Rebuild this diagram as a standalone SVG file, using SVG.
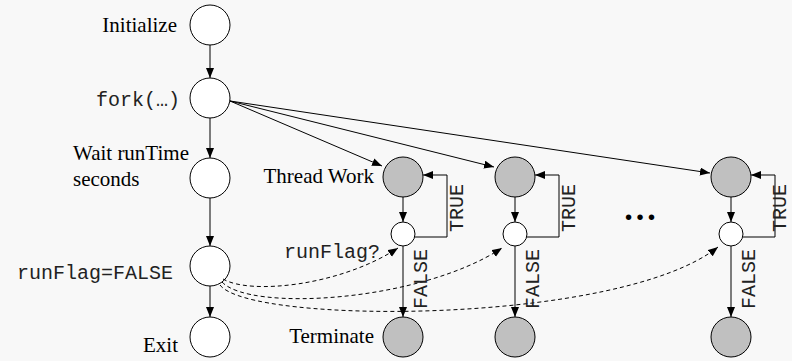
<svg xmlns="http://www.w3.org/2000/svg" width="792" height="361" viewBox="0 0 792 361">
<defs>
<marker id="ah" markerUnits="userSpaceOnUse" markerWidth="11" markerHeight="9" refX="10" refY="4" orient="auto" viewBox="0 0 11 9">
<path d="M0,0 L10,4 L0,8 z" fill="#000"/>
</marker>
<style>
.n{fill:#fff;stroke:#000;stroke-width:1}
.g{fill:#c0c0c0;stroke:#000;stroke-width:1}
.e{fill:none;stroke:#000;stroke-width:1;marker-end:url(#ah)}
.d{fill:none;stroke:#000;stroke-width:1;stroke-dasharray:4,3;marker-end:url(#ah)}
.s{font-family:"Liberation Serif","Times New Roman",serif;font-size:21px;fill:#000}
.m{font-family:"Liberation Mono","Courier New",monospace;font-size:20px;fill:#222}
</style>
</defs>
<rect width="792" height="361" fill="#f8f8f8"/>
<g id="initialize"><circle class="n" cx="210" cy="25" r="20"/><text class="s" x="177" y="32" text-anchor="end">Initialize</text></g>
<g id="fork"><circle class="n" cx="210" cy="98" r="20"/><text class="m" x="180" y="106" text-anchor="end">fork(…)</text></g>
<g id="wait"><circle class="n" cx="210" cy="178" r="20"/><text class="s" x="73" y="160">Wait runTime</text><text class="s" x="73" y="186">seconds</text></g>
<g id="setflag"><circle class="n" cx="210" cy="266" r="20"/><text class="m" x="173" y="279" text-anchor="end">runFlag=FALSE</text></g>
<g id="exit"><circle class="n" cx="210" cy="337" r="20"/><text class="s" x="178" y="352" text-anchor="end">Exit</text></g>

<g id="work1"><circle class="g" cx="403" cy="177" r="20"/><text class="s" x="374" y="183" text-anchor="end">Thread Work</text></g>
<g id="check1"><circle class="n" cx="403" cy="234" r="12"/><text class="m" x="380" y="258" text-anchor="end">runFlag?</text></g>
<g id="term1"><circle class="g" cx="403" cy="337" r="20"/><text class="s" x="374" y="343" text-anchor="end">Terminate</text></g>

<g id="work2"><circle class="g" cx="515" cy="177" r="20"/></g>
<g id="check2"><circle class="n" cx="515" cy="234" r="12"/></g>
<g id="term2"><circle class="g" cx="515" cy="337" r="20"/></g>

<g id="work3"><circle class="g" cx="731" cy="177" r="20"/></g>
<g id="check3"><circle class="n" cx="731" cy="234" r="12"/></g>
<g id="term3"><circle class="g" cx="731" cy="337" r="20"/></g>

<g id="ellipsis"><text x="640" y="220" text-anchor="middle" font-family="Liberation Serif, serif" font-weight="bold" font-size="34">…</text></g>

<g id="connectors">
<path class="e" d="M210,45 L210,78"/>
<path class="e" d="M210,118 L210,158"/>
<path class="e" d="M210,198 L210,246"/>
<path class="e" d="M210,286 L210,317"/>
<path class="e" d="M230,101 L382,166"/>
<path class="e" d="M230,101 L494,167"/>
<path class="e" d="M230,101 L710,173"/>

<path class="e" d="M403,197 L403,222"/>
<path class="e" d="M403,246 L403,317"/>
<path class="e" d="M415,237 L447,237 L447,175 L423,175"/>
<path class="e" d="M515,197 L515,222"/>
<path class="e" d="M515,246 L515,317"/>
<path class="e" d="M527,237 L559,237 L559,175 L535,175"/>
<path class="e" d="M731,197 L731,222"/>
<path class="e" d="M731,246 L731,317"/>
<path class="e" d="M743,237 L775,237 L775,175 L751,175"/>

<path class="d" d="M223,279 C250,295 340,286 398,248"/>
<path class="d" d="M222,282 C250,312 420,302 502,248"/>
<path class="d" d="M220,285 C250,325 620,325 718,247"/>

<text class="m" transform="translate(463,208) rotate(-90)" text-anchor="middle">TRUE</text>
<text class="m" transform="translate(427,279) rotate(-90)" text-anchor="middle">FALSE</text>
<text class="m" transform="translate(575,208) rotate(-90)" text-anchor="middle">TRUE</text>
<text class="m" transform="translate(539,279) rotate(-90)" text-anchor="middle">FALSE</text>
<text class="m" transform="translate(786,208) rotate(-90)" text-anchor="middle" font-size="18">TRUE</text>
<text class="m" transform="translate(755,279) rotate(-90)" text-anchor="middle">FALSE</text>
</g>
</svg>
